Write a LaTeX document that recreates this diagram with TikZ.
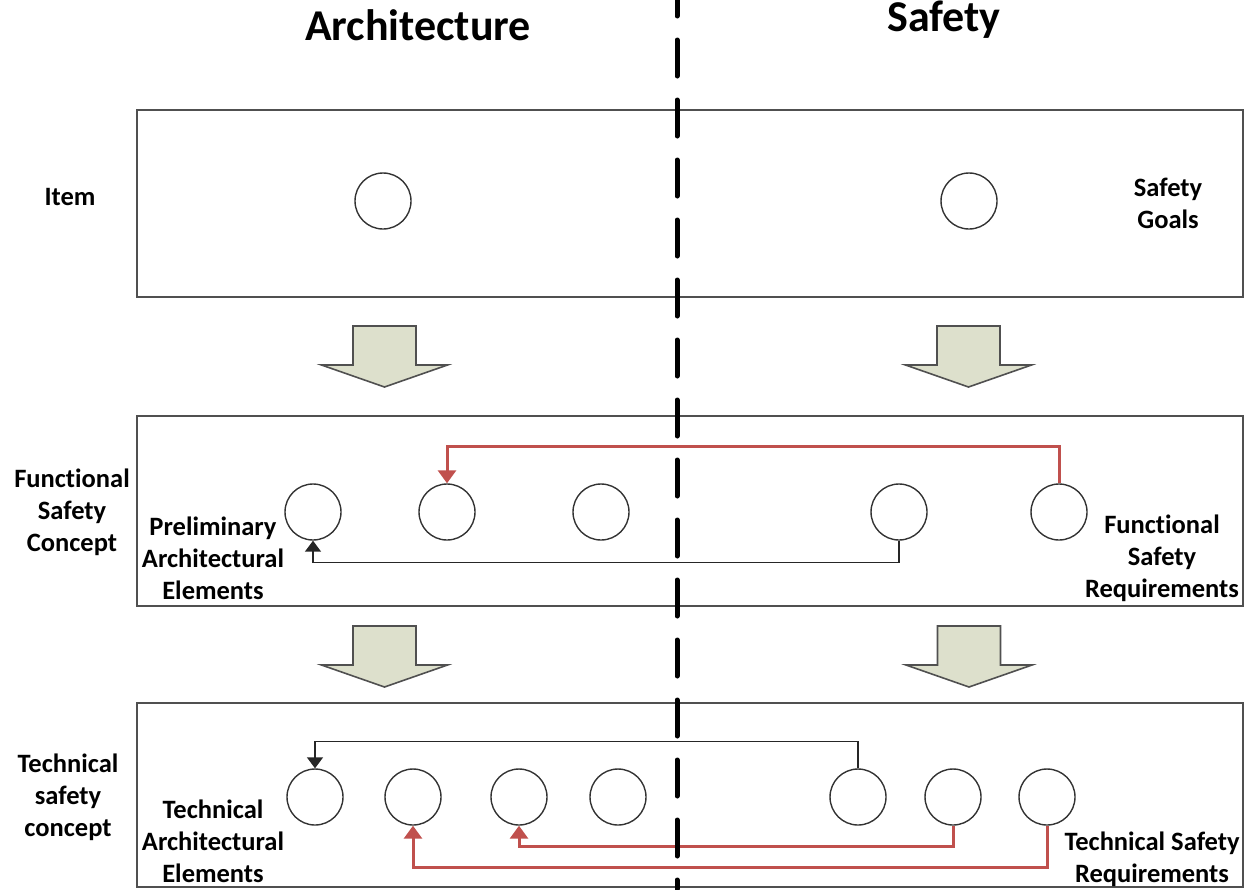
\documentclass[tikz,border=0pt]{standalone}
\usepackage{fontspec}
\setmainfont{Carlito}[Ligatures=NoCommon]
\usetikzlibrary{arrows.meta}
\definecolor{framegray}{HTML}{505050}
\definecolor{linkred}{HTML}{C0504D}
\definecolor{arrowfill}{HTML}{DDE0CC}
\tikzset{
  panel/.style={draw=framegray, line width=1.8pt},
  ball/.style={circle, draw=black!80, line width=1.4pt, minimum size=56pt, inner sep=0pt},
  lbl/.style={align=center, inner sep=0pt, font=\fontsize{26.5}{32}\selectfont\bfseries},
  title/.style={inner sep=0pt, font=\fontsize{44}{53}\selectfont\bfseries},
  blacklink/.style={draw=black!85, line width=1.5pt, -{Triangle[width=16pt,length=11pt]}},
  redlink/.style={draw=linkred, line width=3pt, -{Triangle[width=18pt,length=13pt]}},
  divider/.style={line width=5pt, line cap=round, dash pattern=on 36pt off 24pt, dash phase=20pt},
  pics/downarrow/.style={code={
    \filldraw[fill=arrowfill, draw=framegray, line width=1.6pt, line join=miter]
      (-31.5,0) -- (31.5,0) -- (31.5,39) -- (63,39) -- (0,61) -- (-63,39) -- (-31.5,39) -- cycle;
  }}
}
\begin{document}
\begin{tikzpicture}[x=1pt,y=-1pt]
\useasboundingbox (0,0) rectangle (1246,889);

% column headings
\node[title] (hArch) at (418,25) {Architecture};
\node[title] (hSafe) at (944,20) {Safety};

% the three levels
\draw[panel] (137,110) rectangle (1243,297);
\draw[panel] (137,416) rectangle (1243,606);
\draw[panel] (137,703) rectangle (1243,887);

% refinement arrows between levels
\pic at (384.5,326) {downarrow};
\pic at (968.5,326) {downarrow};
\pic at (384.5,626) {downarrow};
\pic at (969,626) {downarrow};

% item level
\node[lbl] (lItem) at (70,197) {Item};
\node[lbl] (lGoals) at (1168,203) {Safety\\Goals};
\node[ball] (i1) at (383,201) {};
\node[ball] (i2) at (969,201) {};

% functional safety concept level
\node[lbl] (lFSC) at (72,512) {Functional\\Safety\\Concept};
\node[lbl] (lPAE) at (213,558) {Preliminary\\Architectural\\Elements};
\node[lbl] (lFSR) at (1162,558) {Functional\\Safety\\Requirements};
\node[ball] (f1) at (313,512) {};
\node[ball] (f2) at (447,512) {};
\node[ball] (f3) at (601,512) {};
\node[ball] (f4) at (899,512) {};
\node[ball] (f5) at (1059,512) {};
\draw[redlink] (f5.north) -- ++(0,-37) -| (f2.north);
\draw[blacklink] (f4.south) -- ++(0,22) -| (f1.south);

% technical safety concept level
\node[lbl] (lTSC) at (68,797) {Technical\\safety\\concept};
\node[lbl] (lTAE) at (213,841) {Technical\\Architectural\\Elements};
\node[lbl] (lTSR) at (1152,859) {Technical Safety\\Requirements};
\node[ball] (t1) at (315,797) {};
\node[ball] (t2) at (413,797) {};
\node[ball] (t3) at (519,797) {};
\node[ball] (t4) at (618,797) {};
\node[ball] (t5) at (858,797) {};
\node[ball] (t6) at (953,797) {};
\node[ball] (t7) at (1047,797) {};
\draw[blacklink] (t5.north) -- ++(0,-27) -| (t1.north);
\draw[redlink] (t6.south) -- ++(0,21) -| (t3.south);
\draw[redlink] (t7.south) -- ++(0,42) -| (t2.south);

% boundary between the two views
\coordinate (divTop) at (677,0);
\coordinate (divBot) at (677,889);
\draw[divider] (divTop) -- (divBot);
\end{tikzpicture}
\end{document}
